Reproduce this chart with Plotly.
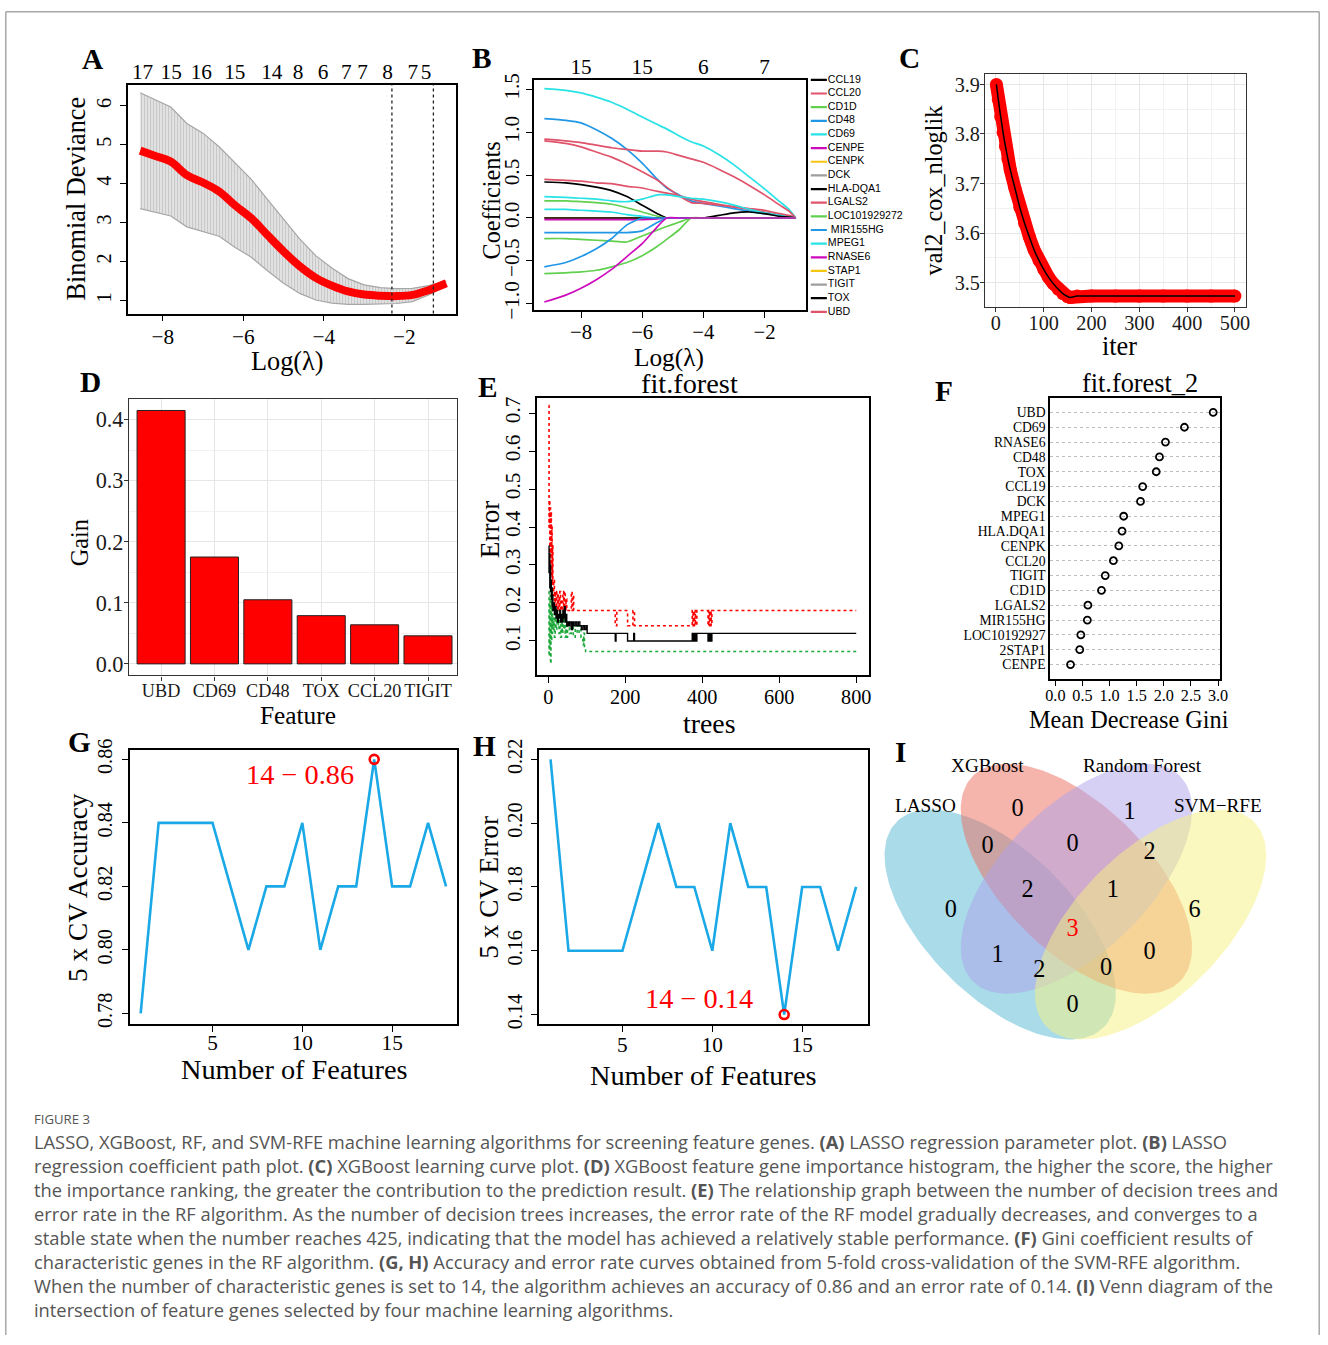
import numpy as np
import plotly.graph_objects as go

W, H = 1328, 1345          # target picture size (also the figure size)
PAD = 8                    # the page is photographed with this padding around it, then fitted to W x H
SX, SY = W / (W + 2 * PAD), H / (H + 2 * PAD)
SERIF = "Liberation Serif, 'Times New Roman', serif"
SANS = "'Open Sans', Lato, sans-serif"
ARIAL = "Liberation Sans, Arial, sans-serif"

# ======================= DATA =======================
# A: LASSO cross-validation
A_loglambda = [-8.56, -8.2, -7.8, -7.4, -7.0, -6.6, -6.2, -5.8, -5.4, -5.0, -4.6, -4.2, -3.8, -3.4, -3.0, -2.6, -2.2, -1.8, -1.4, -0.96]
A_deviance = [4.85, 4.72, 4.57, 4.22, 4.03, 3.80, 3.44, 3.11, 2.68, 2.26, 1.88, 1.58, 1.38, 1.23, 1.15, 1.12, 1.11, 1.14, 1.26, 1.44]
A_upper = [6.34, 6.17, 5.97, 5.55, 5.30, 4.95, 4.52, 4.11, 3.60, 3.08, 2.58, 2.15, 1.83, 1.56, 1.40, 1.33, 1.30, 1.31, 1.38, 1.50]
A_lower = [3.36, 3.27, 3.17, 2.89, 2.76, 2.65, 2.36, 2.11, 1.76, 1.44, 1.18, 1.01, 0.93, 0.90, 0.90, 0.91, 0.92, 0.97, 1.14, 1.38]
A_top_pos = [-8.5, -7.79, -7.04, -6.21, -5.29, -4.64, -4.02, -3.44, -3.04, -2.42, -1.79, -1.46]
A_top_labels = ["17", "15", "16", "15", "14", "8", "6", "7", "7", "8", "7", "5"]
A_lambda_min = -2.31
A_lambda_1se = -1.28

# B: LASSO coefficient paths
B_loglambda = [-9.2, -8.5, -8.0, -7.5, -7.0, -6.5, -6.0, -5.5, -5.2, -4.8, -4.4, -4.0, -3.5, -3.0, -2.5, -2.0, -1.5, -1.2, -0.98]
B_path_zero = [0] * 19
B_path_cyan_top = [1.51, 1.49, 1.46, 1.41, 1.35, 1.27, 1.18, 1.09, 1.04, 0.96, 0.89, 0.84, 0.74, 0.62, 0.48, 0.34, 0.19, 0.10, 0.0]
B_path_blue_top = [1.16, 1.14, 1.11, 1.03, 0.93, 0.80, 0.64, 0.45, 0.35, 0.27, 0.20, 0.17, 0.14, 0.11, 0.08, 0.05, 0.03, 0.015, 0.0]
B_path_red_a = [0.92, 0.90, 0.88, 0.85, 0.82, 0.80, 0.78, 0.78, 0.77, 0.73, 0.69, 0.65, 0.57, 0.48, 0.38, 0.27, 0.15, 0.08, 0.0]
B_path_red_b = [0.90, 0.87, 0.83, 0.77, 0.71, 0.63, 0.54, 0.44, 0.36, 0.26, 0.18, 0.17, 0.15, 0.13, 0.11, 0.09, 0.05, 0.03, 0.0]
B_path_red_c = [0.45, 0.44, 0.43, 0.41, 0.40, 0.37, 0.35, 0.31, 0.29, 0.26, 0.22, 0.19, 0.16, 0.13, 0.10, 0.07, 0.04, 0.02, 0.0]
B_path_black_a = [0.42, 0.41, 0.39, 0.36, 0.32, 0.25, 0.15, 0.05, 0.0, 0, 0, 0, 0, 0, 0, 0, 0, 0, 0]
B_path_cyan_mid = [0.25, 0.24, 0.23, 0.22, 0.20, 0.19, 0.22, 0.27, 0.27, 0.25, 0.23, 0.22, 0.19, 0.15, 0.10, 0.06, 0.03, 0.01, 0.0]
B_path_green_a = [0.20, 0.20, 0.19, 0.18, 0.16, 0.12, 0.07, 0.02, 0.0, 0, 0, 0, 0, 0, 0, 0, 0, 0, 0]
B_path_cyan_low = [0.10, 0.10, 0.09, 0.08, 0.07, 0.04, 0.02, 0.0, 0, 0, 0, 0, 0, 0, 0, 0, 0, 0, 0]
B_path_black_b = [0, 0, 0, 0, 0, 0, 0, 0, 0, 0, 0, 0, 0.03, 0.06, 0.07, 0.05, 0.02, 0.01, 0.0]
B_path_magenta_a = [-0.02, -0.02, -0.02, -0.02, -0.02, -0.02, -0.02, -0.01, 0, 0, 0, 0, 0, 0, 0, 0, 0, 0, 0]
B_path_blue_mid = [-0.17, -0.17, -0.17, -0.17, -0.17, -0.17, -0.15, -0.05, 0, 0, 0, 0, 0, 0, 0, 0, 0, 0, 0]
B_path_green_b = [-0.24, -0.24, -0.25, -0.26, -0.27, -0.28, -0.21, -0.14, -0.10, -0.05, 0, 0, 0, 0, 0, 0, 0, 0, 0]
B_path_blue_low = [-0.57, -0.52, -0.45, -0.36, -0.24, -0.08, 0, 0, 0, 0, 0, 0, 0, 0, 0, 0, 0, 0, 0]
B_path_green_c = [-0.65, -0.64, -0.63, -0.61, -0.57, -0.52, -0.44, -0.33, -0.25, -0.14, 0, 0, 0, 0, 0, 0, 0, 0, 0]
B_path_magenta_b = [-0.98, -0.90, -0.82, -0.72, -0.60, -0.45, -0.30, -0.10, 0, 0, 0, 0, 0, 0, 0, 0, 0, 0, 0]
B_top_pos = [-8, -6, -4, -2]
B_top_labels = ["15", "15", "6", "7"]
B_genes = ["CCL19", "CCL20", "CD1D", "CD48", "CD69", "CENPE", "CENPK", "DCK", "HLA-DQA1", "LGALS2",
           "LOC101929272", " MIR155HG", "MPEG1", "RNASE6", "STAP1", "TIGIT", "TOX", "UBD"]

# C: XGBoost learning curve
C_iter = [1, 5, 10, 15, 20, 25, 30, 40, 50, 60, 70, 80, 90, 100, 110, 120, 130, 140, 150, 155, 160, 170, 200, 250, 300, 350, 400, 450, 500]
C_nloglik = [3.900, 3.870, 3.835, 3.803, 3.775, 3.750, 3.728, 3.690, 3.652, 3.620, 3.592, 3.566, 3.545, 3.527, 3.511, 3.498,
             3.487, 3.478, 3.472, 3.470, 3.471, 3.473, 3.473, 3.473, 3.473, 3.473, 3.473, 3.473, 3.473]

# D: XGBoost importance
D_features = ["UBD", "CD69", "CD48", "TOX", "CCL20", "TIGIT"]
D_gain = [0.415, 0.175, 0.105, 0.079, 0.064, 0.046]

# E: random forest error vs trees
E_black_trees = [1, 2, 3, 4, 5, 6, 7, 8, 9, 10, 11, 12, 14, 16, 18, 20, 22, 24, 26, 28, 30, 32, 34, 36, 38, 40, 42, 44, 46, 48, 50,
                 53, 56, 60, 63, 66, 70, 74, 78, 82, 86, 90, 94, 98, 101, 174, 176, 206, 222, 224, 374, 376, 378, 380, 382, 384,
                 386, 415, 417, 419, 421, 423, 425, 800]
E_black_err = [0.35, 0.28, 0.33, 0.24, 0.30, 0.23, 0.26, 0.21, 0.24, 0.19, 0.22, 0.18, 0.20, 0.17, 0.19, 0.16, 0.18, 0.15, 0.17,
               0.16, 0.18, 0.15, 0.17, 0.15, 0.18, 0.16, 0.19, 0.15, 0.17, 0.14, 0.15, 0.14, 0.15, 0.13, 0.15, 0.14, 0.15, 0.14,
               0.15, 0.14, 0.13, 0.14, 0.13, 0.14, 0.12, 0.10, 0.12, 0.10, 0.12, 0.10, 0.12, 0.10, 0.12, 0.10, 0.12, 0.10,
               0.12, 0.10, 0.12, 0.10, 0.12, 0.10, 0.12, 0.12]
E_red_trees = [1, 2, 3, 4, 5, 6, 7, 8, 9, 10, 11, 12, 14, 16, 18, 20, 22, 24, 26, 28, 30, 32, 34, 36, 38, 40, 42, 44, 46, 48, 60,
               62, 64, 66, 174, 178, 206, 220, 224, 374, 376, 378, 380, 382, 384, 386, 415, 417, 419, 421, 423, 425, 800]
E_red_err = [0.72, 0.40, 0.47, 0.30, 0.45, 0.33, 0.44, 0.27, 0.40, 0.25, 0.35, 0.22, 0.26, 0.20, 0.23, 0.18, 0.23, 0.18, 0.22,
             0.18, 0.23, 0.18, 0.21, 0.18, 0.23, 0.18, 0.23, 0.18, 0.21, 0.18, 0.23, 0.18, 0.22, 0.18, 0.14, 0.18, 0.14, 0.18,
             0.14, 0.18, 0.14, 0.18, 0.14, 0.18, 0.14, 0.18, 0.14, 0.18, 0.14, 0.18, 0.14, 0.18, 0.18]
E_green_trees = [1, 2, 3, 4, 5, 6, 7, 8, 9, 10, 11, 12, 14, 16, 18, 20, 22, 24, 26, 28, 30, 32, 34, 36, 38, 40, 42, 44, 46, 48, 50,
                 55, 60, 65, 70, 75, 80, 85, 90, 92, 94, 97, 800]
E_green_err = [0.23, 0.06, 0.20, 0.08, 0.22, 0.04, 0.18, 0.10, 0.23, 0.12, 0.17, 0.13, 0.16, 0.11, 0.17, 0.13, 0.18, 0.14, 0.17,
               0.12, 0.16, 0.11, 0.15, 0.12, 0.17, 0.13, 0.16, 0.11, 0.14, 0.11, 0.15, 0.12, 0.14, 0.11, 0.14, 0.12, 0.14, 0.11,
               0.09, 0.12, 0.08, 0.072, 0.072]

# F: mean decrease Gini
F_genes = ["UBD", "CD69", "RNASE6", "CD48", "TOX", "CCL19", "DCK", "MPEG1", "HLA.DQA1", "CENPK", "CCL20", "TIGIT", "CD1D",
           "LGALS2", "MIR155HG", "LOC10192927", "2STAP1", "CENPE"]
F_gini = [2.91, 2.38, 2.03, 1.92, 1.86, 1.61, 1.57, 1.26, 1.23, 1.17, 1.07, 0.92, 0.85, 0.60, 0.59, 0.47, 0.45, 0.28]

# G, H: SVM-RFE
GH_nfeatures = list(range(1, 19))
G_accuracy = [0.78, 0.84, 0.84, 0.84, 0.84, 0.82, 0.80, 0.82, 0.82, 0.84, 0.80, 0.82, 0.82, 0.86, 0.82, 0.82, 0.84, 0.82]
H_error = [0.22, 0.16, 0.16, 0.16, 0.16, 0.18, 0.20, 0.18, 0.18, 0.16, 0.20, 0.18, 0.18, 0.14, 0.18, 0.18, 0.16, 0.18]

# I: Venn
VENN_SETS = ["LASSO", "XGBoost", "Random Forest", "SVM\u2212RFE"]
VENN_REGIONS = ["L", "X", "R", "S", "LX", "XR", "RS", "LXR", "XRS", "LXRS", "LR", "XS", "LRS", "LXS", "LS"]
VENN_COUNTS = [0, 0, 1, 6, 0, 0, 2, 2, 1, 3, 1, 0, 2, 0, 0]

# ======================= STYLE / LAYOUT =======================
COL8 = ["#000000", "#DF536B", "#61D04F", "#2297E6", "#28E2E5", "#CD0BBC", "#F5C710", "#9E9E9E"]
B_paths = [
    (B_path_zero, COL8[7]), (B_path_zero, COL8[6]),
    (B_path_cyan_top, COL8[4]), (B_path_blue_top, COL8[3]), (B_path_red_a, COL8[1]), (B_path_red_b, COL8[1]),
    (B_path_red_c, COL8[1]), (B_path_black_a, COL8[0]), (B_path_cyan_mid, COL8[4]), (B_path_green_a, COL8[2]),
    (B_path_cyan_low, COL8[4]), (B_path_black_b, COL8[0]), (B_path_magenta_a, COL8[5]), (B_path_blue_mid, COL8[3]),
    (B_path_green_b, COL8[2]), (B_path_blue_low, COL8[3]), (B_path_green_c, COL8[2]), (B_path_magenta_b, COL8[5]),
]
B_gene_colors = [COL8[i % 8] for i in range(len(B_genes))]


def fs(size):
    return size / SX


def px_x(x):
    return (x / SX - PAD) / W


def px_y(y):
    return 1 - (y / SY - PAD) / H


def dxp(l, r):
    return [px_x(l), px_x(r)]


def dyp(t, b):
    return [px_y(b), px_y(t)]


def raxis(domain, rng, anchor, size=20, **kw):
    d = dict(domain=domain, range=rng, anchor=anchor, showline=True, mirror=True, linecolor="black", linewidth=1.6,
             ticks="outside", ticklen=6, tickwidth=1.3, tickcolor="black", showgrid=False, zeroline=False,
             tickfont=dict(family=SERIF, size=fs(size), color="black"), fixedrange=True)
    d.update(kw)
    return d


def gaxis(domain, rng, anchor, size=20, **kw):
    d = dict(domain=domain, range=rng, anchor=anchor, showline=True, mirror=True, linecolor="#333333", linewidth=1.3,
             ticks="outside", ticklen=4, tickwidth=1.1, tickcolor="#333333", showgrid=True, gridcolor="#e6e6e6",
             gridwidth=1.2, zeroline=False, tickfont=dict(family=SERIF, size=fs(size), color="#1a1a1a"), fixedrange=True)
    d.update(kw)
    return d


fig = go.Figure()

# ---- A ----
fig.add_trace(go.Scatter(x=A_loglambda, y=A_upper, mode="lines", line=dict(color="#a6a6a6", width=1.2),
                         xaxis="x", yaxis="y", hoverinfo="skip"))
fig.add_trace(go.Scatter(x=A_loglambda, y=A_lower, mode="lines", line=dict(color="#a6a6a6", width=1.2), fill="tonexty",
                         fillcolor="#dedede",
                         fillpattern=dict(shape="|", size=3, solidity=0.35, fgcolor="#a9a9a9", bgcolor="#e2e2e2"),
                         xaxis="x", yaxis="y", hoverinfo="skip"))
fig.add_trace(go.Scatter(x=A_loglambda, y=A_deviance, mode="lines", line=dict(color="#ff0000", width=8, shape="spline"),
                         xaxis="x", yaxis="y"))
fig.add_trace(go.Scatter(x=A_top_pos, y=[None] * len(A_top_pos), mode="markers", xaxis="x2", yaxis="y",
                         hoverinfo="skip"))

# ---- B ----
for vals, col in B_paths:
    fig.add_trace(go.Scatter(x=B_loglambda, y=vals, mode="lines", line=dict(color=col, width=1.7, shape="spline",
                                                                             smoothing=0.6),
                             xaxis="x3", yaxis="y3"))
fig.add_trace(go.Scatter(x=B_top_pos, y=[None] * len(B_top_pos), mode="markers", xaxis="x4", yaxis="y3",
                         hoverinfo="skip"))
# legend for B drawn on its own hidden axes
for i, (g, col) in enumerate(zip(B_genes, B_gene_colors)):
    fig.add_trace(go.Scatter(x=[812, 828], y=[i, i], mode="lines", line=dict(color=col, width=2.2),
                             xaxis="x5", yaxis="y5", hoverinfo="skip"))
fig.add_trace(go.Scatter(x=[829] * len(B_genes), y=list(range(len(B_genes))), mode="text", text=B_genes,
                         textposition="middle right", textfont=dict(family=ARIAL, size=fs(10.5), color="black"),
                         cliponaxis=False, xaxis="x5", yaxis="y5", hoverinfo="skip"))

# ---- C ----
fig.add_trace(go.Scatter(x=C_iter, y=C_nloglik, mode="lines+markers", line=dict(color="#ff0000", width=13),
                         marker=dict(color="#ff0000", size=13), xaxis="x6", yaxis="y6"))
fig.add_trace(go.Scatter(x=C_iter, y=C_nloglik, mode="lines", line=dict(color="black", width=1.5, shape="spline"),
                         xaxis="x6", yaxis="y6"))

# ---- D ----
fig.add_trace(go.Bar(x=D_features, y=D_gain, width=0.9, marker=dict(color="#ff0000", line=dict(color="#222222", width=1)),
                     xaxis="x7", yaxis="y7"))

# ---- E ----
fig.add_trace(go.Scatter(x=E_red_trees, y=E_red_err, mode="lines", line=dict(color="#ff0000", width=1.6, dash="dot", shape="hv"),
                         xaxis="x8", yaxis="y8"))
fig.add_trace(go.Scatter(x=E_green_trees, y=E_green_err, mode="lines",
                         line=dict(color="#1fa83c", width=1.6, dash="dot", shape="hv"), xaxis="x8", yaxis="y8"))
fig.add_trace(go.Scatter(x=E_black_trees, y=E_black_err, mode="lines", line=dict(color="black", width=1.4, shape="hv"),
                         xaxis="x8", yaxis="y8"))

# ---- F ----
fig.add_trace(go.Scatter(x=F_gini, y=F_genes, mode="markers",
                         marker=dict(symbol="circle-open", size=7, color="black", line=dict(width=1.8)),
                         xaxis="x9", yaxis="y9"))

# ---- G ----
BLUE = "#1aa9e6"
g_best = int(np.argmax(G_accuracy))
fig.add_trace(go.Scatter(x=GH_nfeatures, y=G_accuracy, mode="lines", line=dict(color=BLUE, width=2.6), xaxis="x10", yaxis="y10"))
fig.add_trace(go.Scatter(x=[GH_nfeatures[g_best]], y=[G_accuracy[g_best]], mode="markers",
                         marker=dict(symbol="circle-open", size=9, color="#ff0000", line=dict(width=2.6)),
                         xaxis="x10", yaxis="y10"))

# ---- H ----
h_best = int(np.argmin(H_error))
fig.add_trace(go.Scatter(x=GH_nfeatures, y=H_error, mode="lines", line=dict(color=BLUE, width=2.6), xaxis="x11", yaxis="y11"))
fig.add_trace(go.Scatter(x=[GH_nfeatures[h_best]], y=[H_error[h_best]], mode="markers",
                         marker=dict(symbol="circle-open", size=9, color="#ff0000", line=dict(width=2.6)),
                         xaxis="x11", yaxis="y11"))

# ---- I (Venn) ----  (pixel-like coordinates on its own axes)
venn_ellipses = [  # cx, cy, a, b, angle(deg, y-down), color
    (1001, 925, 146, 73, 45, "rgba(83,183,211,0.5)"),
    (1077, 879, 146, 73, 45, "rgba(235,107,91,0.5)"),
    (1077, 879, 146, 73, -45, "rgba(173,161,235,0.5)"),
    (1151, 925, 146, 73, -45, "rgba(247,241,127,0.5)"),
]
tt = np.linspace(0, 2 * np.pi, 160)
for cx, cy, a, b, ang, col in venn_ellipses:
    th = np.deg2rad(ang)
    ex = cx + a * np.cos(tt) * np.cos(th) - b * np.sin(tt) * np.sin(th)
    ey = cy + a * np.cos(tt) * np.sin(th) + b * np.sin(tt) * np.cos(th)
    fig.add_trace(go.Scatter(x=ex, y=ey, mode="lines", fill="toself", fillcolor=col, line=dict(width=0),
                             xaxis="x12", yaxis="y12", hoverinfo="skip"))
venn_pos = {"L": (951.7, 911.7), "X": (1018.3, 810), "R": (1130, 813.3), "S": (1195, 911.7), "LX": (988.3, 846.7),
            "XR": (1073.3, 845), "RS": (1150, 853.3), "LXR": (1028.3, 891.7), "XRS": (1113.3, 891.7),
            "LXRS": (1073.3, 930), "LR": (998.3, 956.7), "XS": (1150, 953.3), "LRS": (1040, 971.7),
            "LXS": (1106.7, 970), "LS": (1073.3, 1006.7)}
fig.add_trace(go.Scatter(x=[venn_pos[r][0] for r in VENN_REGIONS], y=[venn_pos[r][1] for r in VENN_REGIONS],
                         mode="text", text=[str(c) for c in VENN_COUNTS], cliponaxis=False,
                         textfont=dict(family=SERIF, size=fs(24),
                                       color=["#ff0000" if r == "LXRS" else "black" for r in VENN_REGIONS]),
                         xaxis="x12", yaxis="y12", hoverinfo="skip"))

# ======================= AXES =======================
layout = dict(
    width=W, height=H, margin=dict(l=0, r=0, t=0, b=0), paper_bgcolor="white", plot_bgcolor="rgba(0,0,0,0)",
    showlegend=False, font=dict(family=SERIF, color="black"),
    # A
    xaxis=raxis(dxp(130.7, 457.7), [-8.86, -0.725], "y", size=21, tickvals=[-8, -6, -4, -2], ticklabelstandoff=-3),
    yaxis=raxis(dyp(81.7, 311.7), [0.66, 6.55], "x", size=20, dtick=1, tickangle=-90, ticklabelstandoff=1),
    xaxis2=dict(overlaying="x", side="top", anchor="y", range=[-8.86, -0.725], tickvals=A_top_pos, ticktext=A_top_labels,
                ticks="", showline=False, showgrid=False, zeroline=False, fixedrange=True,
                tickfont=dict(family=SERIF, size=fs(21), color="black")),
    # B
    xaxis3=raxis(dxp(535.7, 806.7), [-9.54, -0.66], "y3", size=20.5, tickvals=[-8, -6, -4, -2], ticklabelstandoff=-4),
    yaxis3=raxis(dyp(76.7, 308), [-1.073, 1.616], "x3", size=21, tickvals=[-1.0, -0.5, 0.0, 0.5, 1.0, 1.5],
                 tickformat=".1f", tickangle=-90, ticklabelstandoff=-1),
    xaxis4=dict(overlaying="x3", side="top", anchor="y3", range=[-9.54, -0.66], tickvals=B_top_pos, ticktext=B_top_labels,
                ticks="", showline=False, showgrid=False, zeroline=False, fixedrange=True,
                tickfont=dict(family=SERIF, size=fs(21), color="black")),
    xaxis5=dict(domain=dxp(810, 900), range=[810, 900], anchor="y5", visible=False, fixedrange=True),
    yaxis5=dict(domain=dyp(70.2, 316.8), range=[17.5, -0.5], anchor="x5", visible=False, fixedrange=True),
    # C
    xaxis6=gaxis(dxp(986, 1246), [-22.4, 522.6], "y6", size=20, dtick=100, tick0=0, ticklabelstandoff=-6,
                 minor=dict(dtick=50, tick0=0, showgrid=True, gridcolor="#f2f2f2", gridwidth=0.8)),
    yaxis6=gaxis(dyp(70.7, 305), [3.451, 3.922], "x6", size=20, dtick=0.1, tick0=3.5, tickformat=".1f",
                 ticklabelstandoff=-4,
                 minor=dict(dtick=0.05, tick0=3.45, showgrid=True, gridcolor="#f2f2f2", gridwidth=0.8)),
    # D
    xaxis7=gaxis(dxp(131.7, 459.3), [-0.6, 5.55], "y7", size=18, type="category", tickangle=0, ticklabelstandoff=-6),
    yaxis7=gaxis(dyp(397.3, 675), [-0.019, 0.434], "x7", size=22, dtick=0.1, tick0=0, tickformat=".1f",
                 ticklabelstandoff=-4,
                 minor=dict(dtick=0.05, tick0=0, showgrid=True, gridcolor="#f2f2f2", gridwidth=0.8)),
    # E
    xaxis8=raxis(dxp(538.3, 870), [-30.5, 833], "y8", size=20, dtick=200, tick0=0, ticklabelstandoff=-4),
    yaxis8=raxis(dyp(396.7, 675), [0.009, 0.739], "x8", size=21, dtick=0.1, tick0=0.1, tickformat=".1f",
                 tickangle=-90, ticklabelstandoff=0),
    # F
    xaxis9=raxis(dxp(1050.7, 1220.7), [-0.098, 3.043], "y9", size=16, dtick=0.5, tick0=0, tickformat=".1f",
                 ticklen=5, linewidth=1.5, ticklabelstandoff=-4),
    yaxis9=raxis(dyp(396, 678.3), [-0.96, 18.0], "x9", size=13.5, type="category",
                 categoryorder="array", categoryarray=list(reversed(F_genes)), tickmode="array",
                 tickvals=F_genes, ticktext=F_genes, ticks="", showgrid=True,
                 gridcolor="#bdbdbd", griddash="dot", gridwidth=1, linewidth=1.5),
    # G
    xaxis10=raxis(dxp(132.7, 459.3), [0.41, 18.63], "y10", size=21, tickvals=[5, 10, 15], ticklabelstandoff=-7),
    yaxis10=raxis(dyp(749.3, 1025), [0.7766, 0.8631], "x10", size=20, dtick=0.02, tick0=0.78, tickformat=".2f",
                  tickangle=-90, ticklabelstandoff=2),
    # H
    xaxis11=raxis(dxp(540.7, 869), [0.354, 18.66], "y11", size=21, tickvals=[5, 10, 15], ticklabelstandoff=-5),
    yaxis11=raxis(dyp(749.3, 1025), [0.137, 0.2231], "x11", size=20, dtick=0.02, tick0=0.14, tickformat=".2f",
                  tickangle=-90, ticklabelstandoff=1),
    # I
    xaxis12=dict(domain=dxp(885, 1275), range=[885, 1275], anchor="y12", visible=False, fixedrange=True),
    yaxis12=dict(domain=dyp(740, 1050), range=[1050, 740], anchor="x12", visible=False, fixedrange=True),
)
fig.update_layout(**layout)

# reference lines in A
for v in (A_lambda_min, A_lambda_1se):
    fig.add_shape(type="line", xref="x", yref="y domain", x0=v, x1=v, y0=0, y1=1,
                  line=dict(color="#222222", width=1.3, dash="dot"))

# outer frame (top, left, right edges)
FRAME = dict(color="#a8a8a8", width=1.5)
fx0, fx1, fy0 = 0.8 / W, 1 - 0.8 / W, 1 - 0.8 / H
fig.add_shape(type="line", xref="paper", yref="paper", x0=fx0, x1=fx1, y0=fy0, y1=fy0, line=FRAME)
fig.add_shape(type="line", xref="paper", yref="paper", x0=fx0, x1=fx0, y0=0, y1=fy0, line=FRAME)
fig.add_shape(type="line", xref="paper", yref="paper", x0=fx1, x1=fx1, y0=0, y1=fy0, line=FRAME)


def ann(x, y, text, size, angle=0, color="black", family=SERIF, xanchor="center", **kw):
    fig.add_annotation(x=px_x(x), y=px_y(y), xref="paper", yref="paper", text=text, showarrow=False, textangle=angle,
                       font=dict(family=family, size=fs(size), color=color), xanchor=xanchor, yanchor="middle", **kw)


# panel letters
for lab, (x, y) in {"A": (95, 56), "B": (484, 55), "C": (910, 55), "D": (93, 380), "E": (490, 385), "F": (945, 389),
                    "G": (82, 742), "H": (486, 746), "I": (901, 752)}.items():
    ann(x, y, "<b>%s</b>" % lab, 29)

# axis titles / panel titles
ann(79, 196, "Binomial Deviance", 26, angle=-90)
ann(290, 360, "Log(\u03bb)", 26)
ann(493, 198, "Coefficients", 24, angle=-90)
ann(670, 356, "Log(\u03bb)", 25)
ann(934, 188, "val2_cox_nloglik", 24, angle=-90)
ann(1120, 345, "iter", 26)
ann(82, 542, "Gain", 24, angle=-90)
ann(300, 715, "Feature", 25)
ann(691, 382, "fit.forest", 28)
ann(492, 528, "Error", 27, angle=-90)
ann(711, 723, "trees", 27.5)
ann(1140, 382, "fit.forest_2", 26)
ann(1130, 719, "Mean Decrease Gini", 24)
ann(80, 888, "5 x CV Accuracy", 27, angle=-90)
ann(297, 1071, "Number of Features", 28)
ann(491, 888, "5 x CV Error", 27, angle=-90)
ann(705, 1077, "Number of Features", 28)

# best-point labels in G, H
fig.add_annotation(x=GH_nfeatures[g_best], y=G_accuracy[g_best], xref="x10", yref="y10",
                   text="%d \u2212 %.2f" % (GH_nfeatures[g_best], G_accuracy[g_best]), showarrow=False,
                   xanchor="right", yanchor="middle", xshift=-18 / SX, yshift=-15 / SY,
                   font=dict(family=SERIF, size=fs(28), color="#ff0000"))
fig.add_annotation(x=GH_nfeatures[h_best], y=H_error[h_best], xref="x11", yref="y11",
                   text="%d \u2212 %.2f" % (GH_nfeatures[h_best], H_error[h_best]), showarrow=False,
                   xanchor="right", yanchor="middle", xshift=-29 / SX, yshift=16 / SY,
                   font=dict(family=SERIF, size=fs(28), color="#ff0000"))

# Venn set labels
for name, (x, y) in zip(VENN_SETS, [(926, 806), (988, 765), (1143, 765), (1218, 806)]):
    ann(x, y, name, 19)

# caption
CAP = "#555555"
ann(35, 1120, "FIGURE 3", 13, color=CAP, family=SANS, xanchor="left")
caption_lines = [
    "LASSO, XGBoost, RF, and SVM-RFE machine learning algorithms for screening feature genes. <b>(A)</b> LASSO regression parameter plot. <b>(B)</b> LASSO",
    "regression coefficient path plot. <b>(C)</b> XGBoost learning curve plot. <b>(D)</b> XGBoost feature gene importance histogram, the higher the score, the higher",
    "the importance ranking, the greater the contribution to the prediction result. <b>(E)</b> The relationship graph between the number of decision trees and",
    "error rate in the RF algorithm. As the number of decision trees increases, the error rate of the RF model gradually decreases, and converges to a",
    "stable state when the number reaches 425, indicating that the model has achieved a relatively stable performance. <b>(F)</b> Gini coefficient results of",
    "characteristic genes in the RF algorithm. <b>(G, H)</b> Accuracy and error rate curves obtained from 5-fold cross-validation of the SVM-RFE algorithm.",
    "When the number of characteristic genes is set to 14, the algorithm achieves an accuracy of 0.86 and an error rate of 0.14. <b>(I)</b> Venn diagram of the",
    "intersection of feature genes selected by four machine learning algorithms.",
]
for i, line in enumerate(caption_lines):
    ann(35, 1143 + 24 * i, line, 18.1, color=CAP, family=SANS, xanchor="left")

fig.write_html("out.html", config={"displayModeBar": False},
               post_script="document.body.style.margin='0';document.body.style.overflow='hidden';")
